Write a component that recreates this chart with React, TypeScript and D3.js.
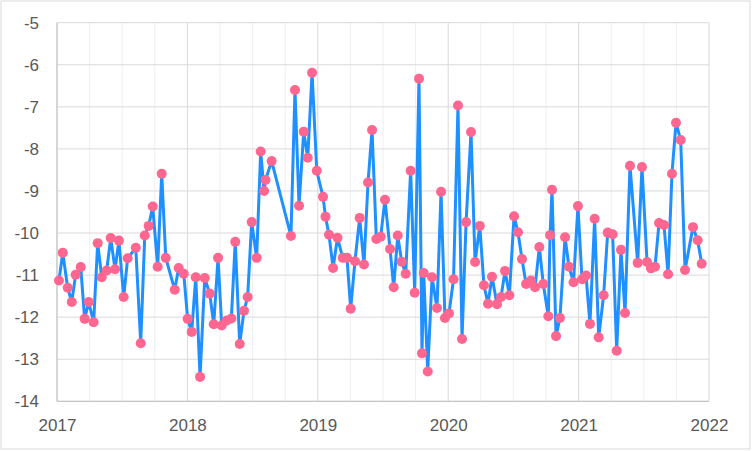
import * as d3 from "d3";
import React from "react";

// decimal years
const dates = [
  2017.015, 2017.044, 2017.082, 2017.113, 2017.143, 2017.182, 2017.212, 2017.243, 2017.281, 2017.312,
  2017.343, 2017.381, 2017.412, 2017.445, 2017.475, 2017.511, 2017.542, 2017.604, 2017.642, 2017.673,
  2017.703, 2017.734, 2017.772, 2017.803, 2017.834, 2017.903, 2017.933, 2017.972, 2018.002, 2018.033,
  2018.064, 2018.097, 2018.133, 2018.171, 2018.202, 2018.235, 2018.263, 2018.301, 2018.337, 2018.367,
  2018.401, 2018.434, 2018.462, 2018.493, 2018.531, 2018.562, 2018.588, 2018.599, 2018.646, 2018.794,
  2018.825, 2018.856, 2018.892, 2018.923, 2018.956, 2018.992, 2019.04, 2019.059, 2019.086, 2019.117,
  2019.151, 2019.191, 2019.224, 2019.252, 2019.285, 2019.321, 2019.354, 2019.385, 2019.416, 2019.449,
  2019.482, 2019.515, 2019.554, 2019.582, 2019.613, 2019.643, 2019.674, 2019.712, 2019.743, 2019.776,
  2019.799, 2019.812, 2019.843, 2019.876, 2019.914, 2019.945, 2019.975, 2020.006, 2020.041, 2020.075,
  2020.106, 2020.137, 2020.175, 2020.206, 2020.242, 2020.274, 2020.305, 2020.336, 2020.374, 2020.405,
  2020.436, 2020.469, 2020.505, 2020.535, 2020.566, 2020.597, 2020.635, 2020.666, 2020.699, 2020.729,
  2020.768, 2020.781, 2020.796, 2020.827, 2020.857, 2020.896, 2020.926, 2020.961, 2020.995, 2021.026,
  2021.057, 2021.087, 2021.123, 2021.154, 2021.192, 2021.223, 2021.261, 2021.292, 2021.325, 2021.356,
  2021.394, 2021.453, 2021.486, 2021.525, 2021.555, 2021.586, 2021.617, 2021.655, 2021.686, 2021.716,
  2021.747, 2021.783, 2021.816, 2021.877, 2021.913, 2021.944,
];

const values = [
  -11.13, -10.47, -11.3, -11.64, -10.99, -10.81, -12.04, -11.64, -12.12, -10.24,
  -11.05, -10.89, -10.12, -10.86, -10.18, -11.52, -10.6, -10.35, -12.62, -10.06,
  -9.83, -9.37, -10.8, -8.59, -10.59, -11.35, -10.83, -10.97, -12.04, -12.35,
  -11.05, -13.42, -11.07, -11.44, -12.17, -10.59, -12.2, -12.08, -12.03, -10.21,
  -12.64, -11.85, -11.52, -9.74, -10.59, -8.06, -9.0, -8.74, -8.29, -10.07,
  -6.6, -9.35, -7.59, -8.21, -6.19, -8.52, -9.14, -9.61, -10.04, -10.83,
  -10.11, -10.59, -10.59, -11.8, -10.67, -9.64, -10.75, -8.8, -7.55, -10.14,
  -10.09, -9.21, -10.38, -11.29, -10.06, -10.68, -10.97, -8.52, -11.42, -6.33,
  -12.86, -10.95, -13.29, -11.05, -11.78, -9.02, -12.02, -11.91, -11.1, -6.97,
  -12.52, -9.74, -7.6, -10.69, -9.83, -11.24, -11.68, -11.04, -11.69, -11.52,
  -10.9, -11.48, -9.6, -9.98, -10.62, -11.21, -11.13, -11.29, -10.33, -11.21,
  -11.98, -10.05, -8.97, -12.45, -12.02, -10.1, -10.8, -11.17, -9.36, -11.1,
  -11.01, -12.16, -9.66, -12.48, -11.48, -9.99, -10.03, -12.8, -10.4, -11.9,
  -8.4, -10.71, -8.43, -10.69, -10.84, -10.8, -9.76, -9.81, -10.98, -8.59,
  -7.38, -7.79, -10.88, -9.86, -10.17, -10.73,
];

const yearTicks = [2017, 2018, 2019, 2020, 2021, 2022];
const valueTicks = [-14, -13, -12, -11, -10, -9, -8, -7, -6, -5];

const W = 752;
const H = 451;
const margin = { top: 22.7, right: 43, bottom: 49.7, left: 57 };
const font = "'Liberation Sans', Arial, sans-serif";

export default function App() {
  const svgRef = React.useRef<SVGSVGElement | null>(null);

  React.useEffect(() => {
    const svgEl = d3.select(svgRef.current);
    svgEl.selectAll("*").remove();

    const w = W - margin.left - margin.right;
    const h = H - margin.top - margin.bottom;

    const x = d3.scaleLinear().domain([2017, 2022]).range([0, w]);
    const y = d3.scaleLinear().domain([-14, -5]).range([h, 0]);

    // outer chart border
    svgEl
      .append("rect")
      .attr("x", 1)
      .attr("y", 1)
      .attr("width", W - 3)
      .attr("height", H - 3)
      .attr("fill", "white")
      .attr("stroke", "#d9d9d9");

    const g = svgEl.append("g").attr("transform", `translate(${margin.left},${margin.top})`);

    // minor quarterly gridlines
    const quarters = d3.range(2017, 2022, 0.25).filter((q) => !Number.isInteger(q));
    g.selectAll(".minor")
      .data(quarters)
      .join("line")
      .attr("x1", (d) => x(d))
      .attr("x2", (d) => x(d))
      .attr("y1", 0)
      .attr("y2", h)
      .attr("stroke", "#efefef")
      .attr("stroke-width", 1);

    // horizontal gridlines
    g.selectAll(".hgrid")
      .data(valueTicks)
      .join("line")
      .attr("x1", 0)
      .attr("x2", w)
      .attr("y1", (d) => y(d))
      .attr("y2", (d) => y(d))
      .attr("stroke", "#d9d9d9")
      .attr("stroke-width", 1);

    // yearly gridlines
    g.selectAll(".vgrid")
      .data(yearTicks)
      .join("line")
      .attr("x1", (d) => x(d))
      .attr("x2", (d) => x(d))
      .attr("y1", 0)
      .attr("y2", h)
      .attr("stroke", "#d9d9d9")
      .attr("stroke-width", 1);

    // axes lines
    g.append("line").attr("x1", 0).attr("x2", 0).attr("y1", 0).attr("y2", h).attr("stroke", "#bfbfbf");
    g.append("line").attr("x1", 0).attr("x2", w).attr("y1", h).attr("y2", h).attr("stroke", "#bfbfbf");

    // Y labels
    const yAxis = d3.axisLeft(y).tickValues(valueTicks).tickSize(0).tickPadding(18).tickFormat((d) => `${d}`);
    const yg = g.append("g").call(yAxis);
    yg.select(".domain").remove();
    yg.selectAll("text").attr("fill", "#595959").attr("font-size", 17).attr("font-family", font);

    // X labels
    const xAxis = d3.axisBottom(x).tickValues(yearTicks).tickSize(0).tickPadding(18).tickFormat((d) => `${d}`);
    const xg = g.append("g").attr("transform", `translate(0,${h})`).call(xAxis);
    xg.select(".domain").remove();
    xg.selectAll("text").attr("fill", "#595959").attr("font-size", 17).attr("font-family", font);

    const pts = dates.map((d, i) => ({ date: d, value: values[i] }));

    const line = d3
      .line<{ date: number; value: number }>()
      .x((d) => x(d.date))
      .y((d) => y(d.value));

    g.append("path")
      .datum(pts)
      .attr("fill", "none")
      .attr("stroke", "#1e90ff")
      .attr("stroke-width", 3)
      .attr("stroke-linejoin", "round")
      .attr("d", line);

    g.selectAll(".dot")
      .data(pts)
      .join("circle")
      .attr("cx", (d) => x(d.date))
      .attr("cy", (d) => y(d.value))
      .attr("r", 5)
      .attr("fill", "#ff6690");
  }, []);

  return (
    <svg
      ref={svgRef}
      width={W}
      height={H}
      style={{ position: "absolute", left: 0, top: 0, background: "white" }}
    />
  );
}
